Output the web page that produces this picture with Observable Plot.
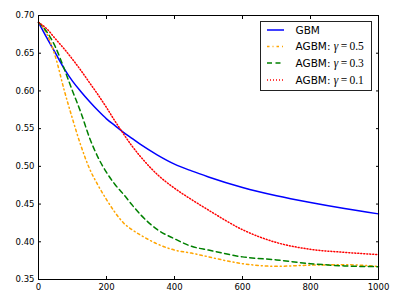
<!DOCTYPE html>
<html>
<head>
<meta charset="utf-8">
<script src="https://cdn.jsdelivr.net/npm/d3@7"></script>
<script src="https://cdn.jsdelivr.net/npm/@observablehq/plot@0.6"></script>
<style>
  html, body { margin: 0; padding: 0; background: white; }
</style>
</head>
<body>
<div id="chart"></div>
<script>
// x positions (iterations)
const steps = [0, 25, 50, 75, 100, 125, 150, 175, 200, 225, 250, 275, 300, 350, 400, 450, 500, 600, 700, 800, 900, 1000];
// series values
const gbm    = [0.691, 0.670, 0.650, 0.630, 0.613, 0.599, 0.586, 0.574, 0.563, 0.554, 0.545, 0.537, 0.529, 0.515, 0.503, 0.494, 0.486, 0.472, 0.461, 0.452, 0.444, 0.437];
const agbm05 = [0.691, 0.675, 0.645, 0.602, 0.563, 0.527, 0.497, 0.475, 0.456, 0.439, 0.425, 0.416, 0.409, 0.397, 0.389, 0.385, 0.380, 0.371, 0.3675, 0.369, 0.3695, 0.3674];
const agbm03 = [0.691, 0.678, 0.658, 0.630, 0.600, 0.571, 0.538, 0.512, 0.492, 0.476, 0.463, 0.449, 0.436, 0.416, 0.404, 0.394, 0.389, 0.380, 0.376, 0.371, 0.368, 0.367];
const agbm01 = [0.691, 0.682, 0.669, 0.656, 0.642, 0.627, 0.611, 0.595, 0.578, 0.560, 0.543, 0.527, 0.513, 0.489, 0.471, 0.456, 0.442, 0.416, 0.399, 0.390, 0.386, 0.383];

const seriesNames = ["GBM", "AGBM: γ = 0.5", "AGBM: γ = 0.3", "AGBM: γ = 0.1"];
const gammaLabels = [null, "0.5", "0.3", "0.1"];
const seriesValues = [gbm, agbm05, agbm03, agbm01];
const seriesColors = ["blue", "orange", "green", "red"];
const seriesDashes = [null, "2.5,3,1,3", "5,3.5", "1,2"];

const xTicks = [0, 200, 400, 600, 800, 1000];
const yTicks = [0.35, 0.40, 0.45, 0.50, 0.55, 0.60, 0.65, 0.70];

const rows = seriesNames.map((name, i) => steps.map((s, j) => ({series: name, x: s, y: seriesValues[i][j]})));

const chart = Plot.plot({
  width: 404,
  height: 302,
  marginLeft: 38,
  marginRight: 26,
  marginTop: 15,
  marginBottom: 23,
  x: {domain: [0, 1000]},
  y: {domain: [0.35, 0.70]},
  style: {fontFamily: "DejaVu Sans", fontSize: "8.5px", color: "black", background: "white", overflow: "visible"},
  marks: [
    ...rows.map((r, i) => Plot.line(r, {
      x: "x", y: "y", stroke: seriesColors[i], strokeWidth: 1.5,
      strokeDasharray: seriesDashes[i], curve: "monotone-x"
    })),
    Plot.axisX(xTicks, {anchor: "bottom", tickSize: 0, tickPadding: 4.5, tickFormat: d => String(d), label: null}),
    Plot.axisX(xTicks, {anchor: "bottom", tickSize: -3, tickFormat: () => "", label: null}),
    Plot.axisX(xTicks, {anchor: "top", tickSize: -3, tickFormat: () => "", label: null}),
    Plot.axisY(yTicks, {anchor: "left", tickSize: 0, tickPadding: 4, tickFormat: d3.format(".2f"), label: null}),
    Plot.axisY(yTicks, {anchor: "left", tickSize: -3, tickFormat: () => "", label: null}),
    Plot.axisY(yTicks, {anchor: "right", tickSize: -3, tickFormat: () => "", label: null}),
    Plot.frame({stroke: "black", strokeWidth: 1})
  ]
});

// Legend (inside the plot, upper right)
const svg = d3.select(chart);
const lg = svg.append("g").attr("class", "legend").attr("text-anchor", "start");
lg.append("rect")
  .attr("x", 260.5).attr("y", 21.5).attr("width", 111).attr("height", 69)
  .attr("fill", "white").attr("stroke", "#222").attr("stroke-width", 1);
const rowY = [30, 46.5, 63, 80];
seriesNames.forEach((name, i) => {
  lg.append("line")
    .attr("x1", 267).attr("x2", 284)
    .attr("y1", rowY[i]).attr("y2", rowY[i])
    .attr("stroke", seriesColors[i]).attr("stroke-width", 1.5)
    .attr("stroke-dasharray", seriesDashes[i]);
  const t = lg.append("text")
    .attr("x", 295.5).attr("y", rowY[i]).attr("dy", "0.36em")
    .attr("text-anchor", "start")
    .attr("font-family", "DejaVu Sans").attr("font-size", "10.5px").attr("fill", "black");
  if (gammaLabels[i] === null) {
    t.text(name);
  } else {
    t.append("tspan").text("AGBM: ");
    t.append("tspan").attr("font-family", "Liberation Serif").attr("font-style", "italic").attr("font-size", "11.5px").text("γ");
    t.append("tspan").attr("font-family", "Liberation Serif").attr("font-size", "11.5px").text("\u2009=\u2009" + gammaLabels[i]);
  }
});

document.getElementById("chart").appendChild(chart);
</script>
</body>
</html>
